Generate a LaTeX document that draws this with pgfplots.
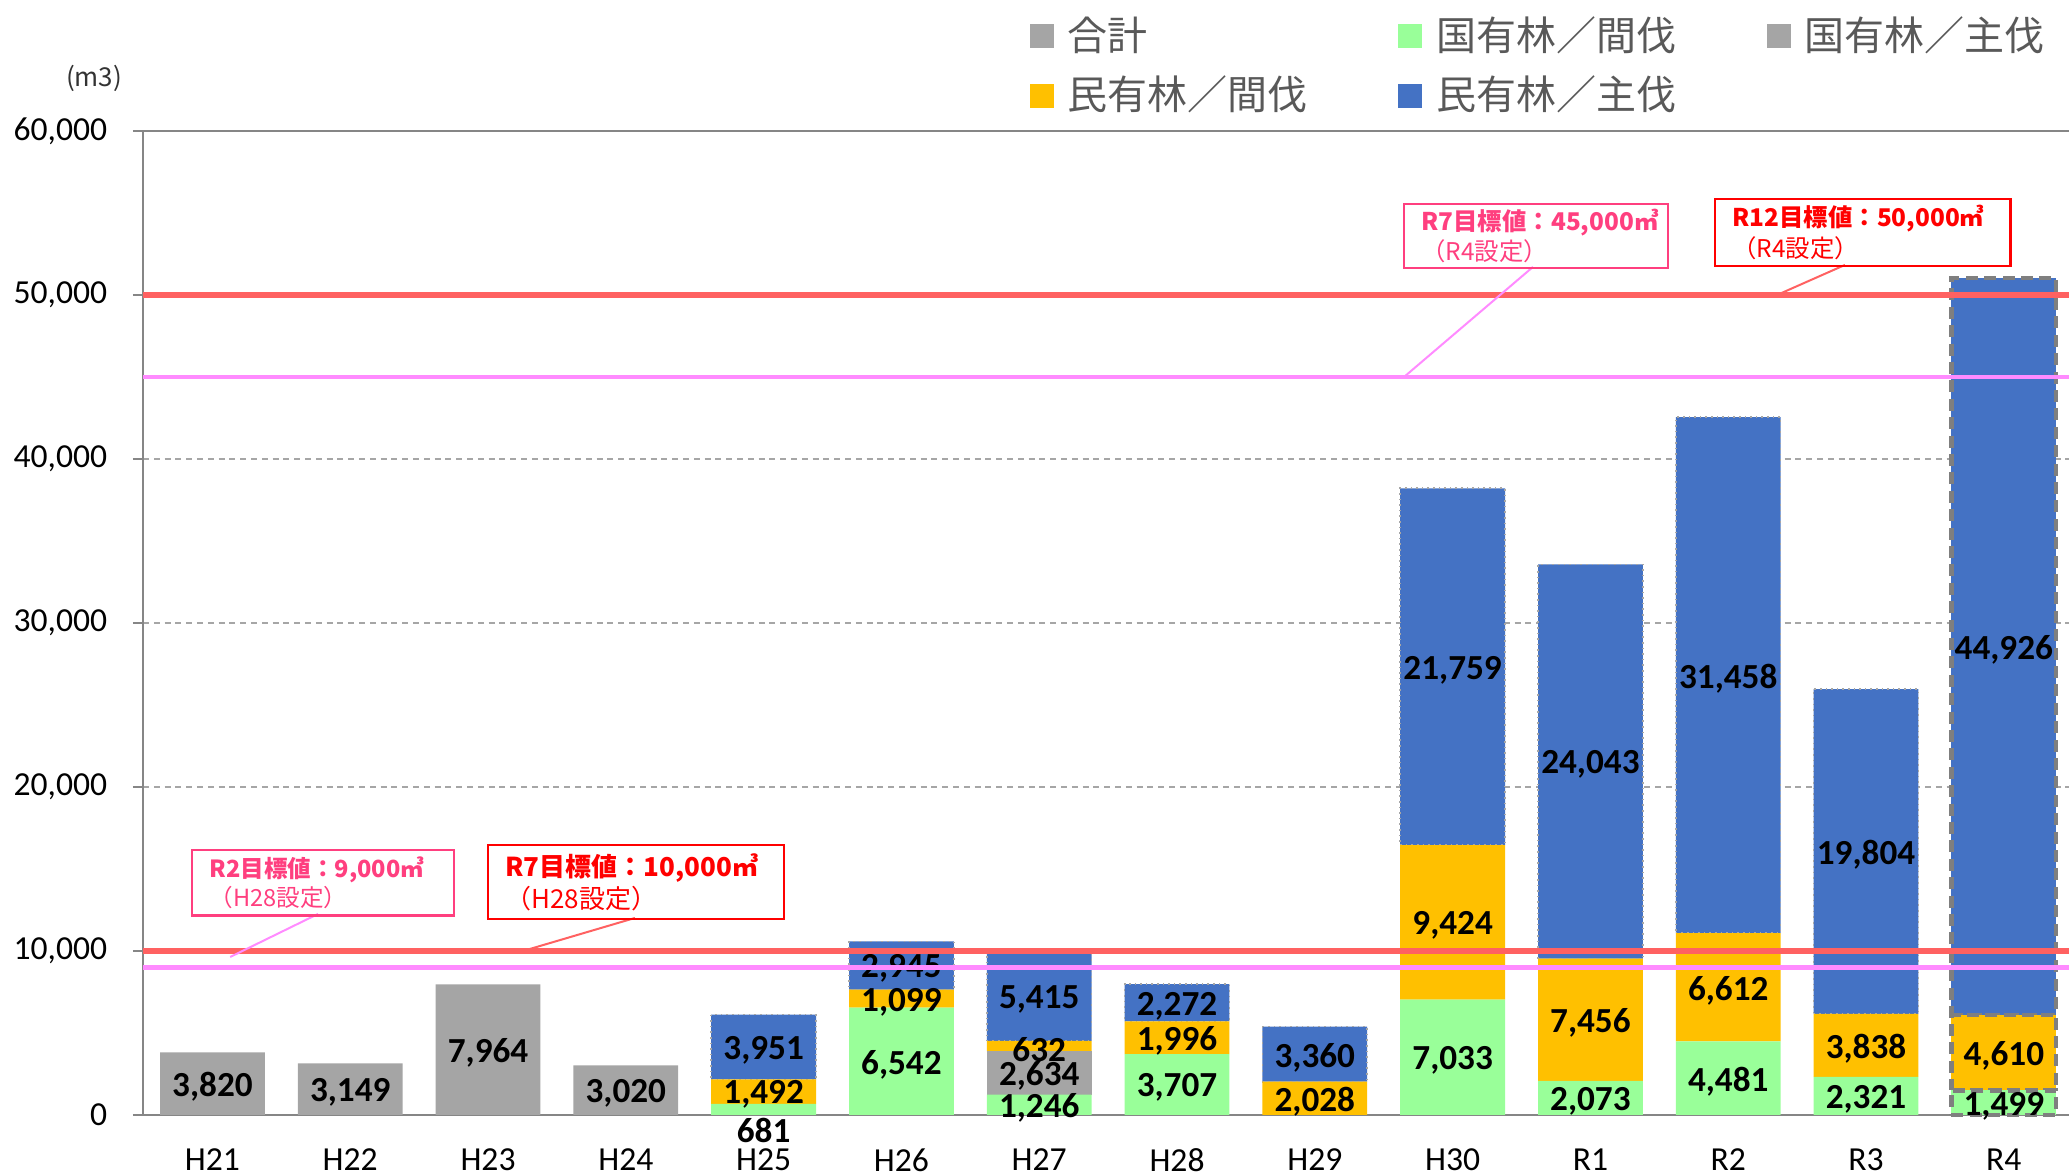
\documentclass[border=0pt]{standalone}
\usepackage{fontspec}
\usepackage{pgfplots}
\usepackage{pgfplotstable}
\pgfplotsset{compat=1.18}
\usetikzlibrary{calc}
\setmainfont{Carlito}
\newfontfamily\jp{Noto Sans CJK JP}

\definecolor{cgray}{HTML}{A5A5A5}
\definecolor{cgreen}{HTML}{99FF99}
\definecolor{corange}{HTML}{FFC000}
\definecolor{cblue}{HTML}{4472C4}
\definecolor{lred}{HTML}{FF6161}
\definecolor{lpink}{HTML}{FF8BFF}
\definecolor{tpink}{HTML}{FF3F7F}
\definecolor{tred}{HTML}{FF0000}
\definecolor{axisgray}{HTML}{868686}
\definecolor{gridgray}{HTML}{A6A6A6}
\definecolor{legtext}{HTML}{595959}
\definecolor{r4gray}{HTML}{7F7F7F}

\pgfkeys{/pgf/number format/.cd,1000 sep={,},assume math mode=true}

% m3 per year, H21..R3 (x = 0..12)
\pgfplotstableread{
x y
0 0
1 0
2 0
3 0
4 681
5 6542
6 1246
7 3707
8 0
9 7033
10 2073
11 4481
12 2321
}\kokuKan
\pgfplotstableread{
x y
0 0
1 0
2 0
3 0
4 0
5 0
6 2634
7 0
8 0
9 0
10 0
11 0
12 0
}\kokuShu
\pgfplotstableread{
x y
0 0
1 0
2 0
3 0
4 1492
5 1099
6 632
7 1996
8 2028
9 9424
10 7456
11 6612
12 3838
}\minKan
\pgfplotstableread{
x y
0 0
1 0
2 0
3 0
4 3951
5 2945
6 5415
7 2272
8 3360
9 21759
10 24043
11 31458
12 19804
}\minShu
\pgfplotstableread{
x y
0 3820
1 3149
2 7964
3 3020
4 0
5 0
6 0
7 0
8 0
9 0
10 0
11 0
12 0
}\goukei
% R4 (x = 13)
\pgfplotstableread{
x y
13 1499
}\rKokuKan
\pgfplotstableread{
x y
13 4610
}\rMinKan
\pgfplotstableread{
x y
13 44926
}\rMinShu

\pgfplotsset{
  base/.style={scale only axis, width=481.5pt, height=246pt,
    xmin=-0.504, xmax=13.473, ymin=0, ymax=60000, clip=false},
  % label in its segment; #1 = extra drop (pt) for segments below 1000
  lbl/.style={
    point meta=explicit,
    nodes near coords={\pgfmathfloatifflags{\pgfplotspointmeta}{0}{}{\pgfmathprintnumber{\pgfplotspointmeta}}},
    every node near coord/.style={
      font=\bfseries\fontsize{8.8}{10}\selectfont, text=black,
      inner sep=0pt, anchor=center,
      /utils/exec={\begingroup\pgfkeys{/pgf/fpu=true,/pgf/fpu/output format=fixed}%
        \pgfmathparse{-0.8-#1*(\pgfplotspointmeta<1000)}%
        \xdef\lbshift{\pgfmathresult}\endgroup},
      yshift=\lbshift pt},
  },
  lbl/.default=0,
  r4/.style={draw=r4gray, line width=1.1pt, dash pattern=on 3pt off 1.6pt},
}
\tikzset{
  tbox/.style={anchor=north west, line width=0.6pt, inner xsep=4.3pt,
    inner ysep=0pt, align=left, font=\jp\fontsize{5.9}{6.3}\selectfont},
}
\newcommand\legsq[1]{\addlegendimage{legend image code/.code={\fill[#1] (0pt,-2.8pt) rectangle (5.6pt,2.8pt);}}}

\begin{document}
\begin{tikzpicture}
\begin{axis}[base,
  ybar stacked, bar width=26.2pt,
  axis x line*=bottom, axis y line*=left,
  axis line style={draw=axisgray, line width=0.6pt},
  xtick={0,...,13},
  xticklabels={H21,H22,H23,H24,H25,H26,H27,H28,H29,H30,R1,R2,R3,R4},
  ytick={0,10000,...,50000}, extra y ticks={60000},
  extra y tick style={major grid style={solid, draw=axisgray, line width=0.6pt}},
  scaled y ticks=false,
  /pgf/number format/assume math mode=true,
  ymajorgrids,
  grid style={draw=gridgray, line width=0.4pt, dash pattern=on 1.5pt off 1.2pt},
  tick align=outside, major tick length=2.5pt,
  xtick style={draw=none},
  ytick style={draw=axisgray, line width=0.6pt},
  tick label style={font=\fontsize{8.4}{10}\selectfont, text=black},
  yticklabel style={inner sep=0pt, xshift=-6.25pt},
  xticklabel style={inner sep=0pt, yshift=-5.8pt},
  legend columns=3, legend cell align=left,
  legend style={at={(rel axis cs:0.460,1.1213)}, anchor=north west,
    draw=none, fill=none, inner sep=0pt,
    font=\jp\fontsize{10}{12}\selectfont, text=legtext,
    nodes={inner xsep=0pt, inner ysep=1pt},
    row sep=2.85pt,
    /tikz/every odd column/.append style={column sep=3.5pt}},
]
\coordinate (O) at (rel axis cs:0,0);
\legsq{cgray}\addlegendentry{\makebox[82.6pt][l]{合計}}
\legsq{cgreen}\addlegendentry{\makebox[82.6pt][l]{国有林／間伐}}
\legsq{cgray}\addlegendentry{\makebox[82.6pt][l]{国有林／主伐}}
\legsq{corange}\addlegendentry{\makebox[82.6pt][l]{民有林／間伐}}
\legsq{cblue}\addlegendentry{\makebox[82.6pt][l]{民有林／主伐}}

\addplot[fill=cgreen, draw=none, lbl=4.4] table[x=x,y=y,meta=y] {\kokuKan};
\addplot[fill=cgray, draw=none, lbl] table[x=x,y=y,meta=y] {\kokuShu};
\addplot[fill=corange, draw=none, lbl] table[x=x,y=y,meta=y] {\minKan};
\addplot[fill=cblue, draw=gray!70, line width=0.4pt, densely dotted, lbl] table[x=x,y=y,meta=y] {\minShu};
\addplot[fill=cgray, draw=none, lbl] table[x=x,y=y,meta=y] {\goukei};

\node[font=\jp\fontsize{6.5}{7}\selectfont, text=black!80] at (rel axis cs:-0.0254,1.0535) {(m3)};
\end{axis}

% R4 bar with dashed outline
\begin{axis}[base, hide axis, ybar stacked, bar width=26.2pt]
\addplot[fill=cgreen, r4, lbl] table[x=x,y=y,meta=y] {\rKokuKan};
\addplot[fill=corange, r4, lbl] table[x=x,y=y,meta=y] {\rMinKan};
\addplot[fill=cblue, r4, lbl] table[x=x,y=y,meta=y] {\rMinShu};
\end{axis}

% target lines and notes
\begin{axis}[base, hide axis]
\addplot[lpink, line width=1.1pt] coordinates {(-0.504,9000) (13.473,9000)};
\addplot[lred, line width=1.3pt] coordinates {(-0.504,10000) (13.473,10000)};
\addplot[lpink, line width=1.1pt] coordinates {(-0.504,45000) (13.473,45000)};
\addplot[lred, line width=1.3pt] coordinates {(-0.504,50000) (13.473,50000)};

\draw[lpink, line width=0.5pt] (axis cs:0.766,12257) -- (axis cs:0.129,9635);
\draw[lred, line width=0.5pt] (axis cs:3.066,12013) -- (axis cs:2.254,10000);
\draw[lpink, line width=0.5pt] (axis cs:9.583,51711) -- (axis cs:8.647,45000);
\draw[lred, line width=0.5pt] (axis cs:11.847,51833) -- (axis cs:11.354,50000);

\node[tbox, draw=tpink, text=tpink, text width=56.9pt, minimum height=16.3pt]
  at (axis cs:-0.155,16221) {\textbf{R2目標値：9,000㎥}\\（H28設定）};
\node[tbox, draw=tred, text=tred, text width=65.4pt, minimum height=18.5pt,
  font=\jp\fontsize{6.5}{7}\selectfont]
  at (axis cs:1.993,16526) {\textbf{R7目標値：10,000㎥}\\（H28設定）};
\node[tbox, draw=tpink, text=tpink, text width=57.4pt, minimum height=16pt,
  font=\jp\fontsize{6.1}{6.5}\selectfont]
  at (axis cs:8.640,55614) {\textbf{R7目標値：45,000㎥}\\（R4設定）};
\node[tbox, draw=tred, text=tred, text width=65.2pt, minimum height=16.7pt,
  font=\jp\fontsize{6.1}{6.5}\selectfont]
  at (axis cs:10.897,55919) {\textbf{R12目標値：50,000㎥}\\（R4設定）};
\end{axis}

\pgfresetboundingbox
\path ($(O)+(-35.75pt,-14.75pt)$) rectangle ($(O)+(481.5pt,278.75pt)$);
\end{tikzpicture}
\end{document}
